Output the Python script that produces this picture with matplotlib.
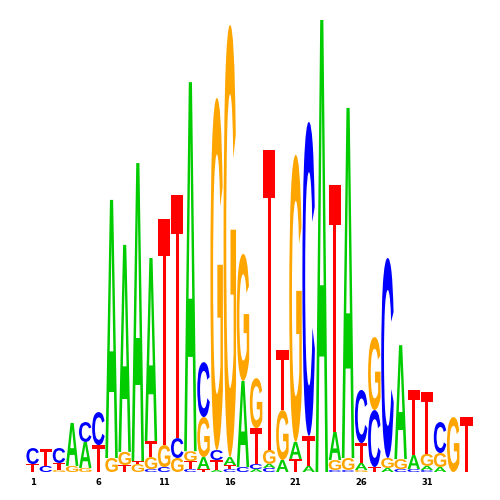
import matplotlib
matplotlib.use("Agg")
import matplotlib.pyplot as plt
from matplotlib.textpath import TextPath
from matplotlib.patches import PathPatch
from matplotlib.font_manager import FontProperties
from matplotlib.transforms import Affine2D

# letter stacks per position, bottom -> top, heights in bits
positions = list(range(1, 35))
stacks = [
    [("T", 0.035), ("C", 0.071)],
    [("C", 0.027), ("T", 0.075)],
    [("G", 0.009), ("T", 0.031), ("C", 0.066)],
    [("G", 0.027), ("A", 0.190)],
    [("G", 0.018), ("A", 0.115), ("C", 0.088)],
    [("T", 0.119), ("C", 0.146)],
    [("G", 0.062), ("A", 1.142)],
    [("T", 0.031), ("G", 0.058), ("A", 0.916)],
    [("G", 0.035), ("T", 0.013), ("A", 1.319)],
    [("C", 0.013), ("G", 0.053), ("T", 0.071), ("A", 0.810)],
    [("C", 0.022), ("G", 0.097), ("T", 1.000)],
    [("G", 0.062), ("C", 0.088), ("T", 1.075)],
    [("C", 0.013), ("T", 0.035), ("G", 0.044), ("A", 1.633)],
    [("T", 0.013), ("A", 0.053), ("G", 0.177), ("C", 0.243)],
    [("A", 0.009), ("T", 0.044), ("C", 0.044), ("G", 1.558)],
    [("C", 0.013), ("T", 0.018), ("A", 0.035), ("G", 1.912)],
    [("C", 0.022), ("A", 0.381), ("G", 0.562)],
    [("A", 0.013), ("C", 0.022), ("T", 0.159), ("G", 0.221)],
    [("C", 0.018), ("A", 0.018), ("G", 0.062), ("T", 1.327)],
    [("A", 0.053), ("G", 0.221), ("T", 0.265)],
    [("T", 0.058), ("A", 0.075), ("G", 1.270)],
    [("A", 0.027), ("T", 0.133), ("C", 1.389)],
    [("A", 2.000)],
    [("C", 0.009), ("G", 0.044), ("A", 0.124), ("T", 1.093)],
    [("C", 0.009), ("G", 0.053), ("A", 1.549)],
    [("G", 0.009), ("A", 0.031), ("T", 0.088), ("C", 0.235)],
    [("T", 0.022), ("C", 0.252), ("G", 0.323)],
    [("A", 0.018), ("G", 0.044), ("C", 0.885)],
    [("C", 0.013), ("G", 0.044), ("A", 0.504)],
    [("C", 0.013), ("A", 0.062), ("T", 0.288)],
    [("C", 0.009), ("A", 0.018), ("G", 0.053), ("T", 0.274)],
    [("A", 0.022), ("G", 0.062), ("C", 0.137)],
    [("G", 0.243)],
    [("T", 0.243)],
]
tick_labels = ["1", "6", "11", "16", "21", "26", "31"]

colors = {"A": "#00cc00", "C": "#0000ff", "G": "#ffa500", "T": "#ff0000"}
fp = FontProperties(family="Liberation Sans", weight="bold")

fig = plt.figure(figsize=(5, 5), dpi=100)
ax = fig.add_axes([0, 0.056, 1, 0.944])

col_w = 0.95
for pos, stack in zip(positions, stacks):
    y0 = 0
    for letter, h in stack:
        tp = TextPath((0, 0), letter, size=1, prop=fp)
        bb = tp.get_extents()
        tr = (Affine2D()
              .translate(-bb.x0, -bb.y0)
              .scale(col_w / bb.width, h / bb.height)
              .translate(pos - col_w / 2, y0))
        ax.add_patch(PathPatch(tr.transform_path(tp), facecolor=colors[letter],
                               edgecolor="none"))
        y0 += h

ax.set_xlim(1 - 32.7 / 13.14, 1 - 32.7 / 13.14 + 500 / 13.14)
ax.set_ylim(0, 472 / 226)
ax.set_xticks([int(t) for t in tick_labels])
ax.set_xticklabels(tick_labels, fontsize=6, fontweight="bold")
ax.tick_params(axis="x", length=0, pad=4)
ax.set_yticks([])
for s in ax.spines.values():
    s.set_visible(False)

fig.savefig("out.png", dpi=100)
